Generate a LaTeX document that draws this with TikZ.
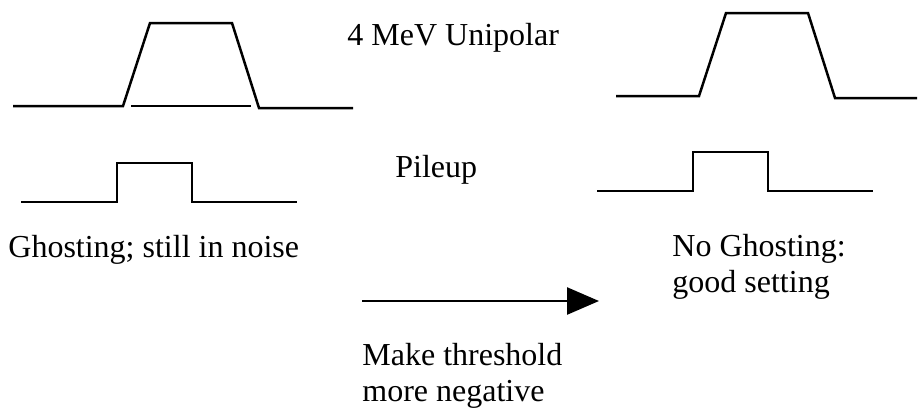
\documentclass[tikz,border=0pt]{standalone}
\usepackage{fontspec}
\setmainfont{Liberation Serif}
\usetikzlibrary{arrows.meta}
\colorlet{TraceInk}{black}
\tikzset{
  trace/.style={line width=1.25pt,TraceInk},
  lbl/.style={inner sep=0pt,anchor=base west,align=left,
    font=\fontsize{16}{18}\selectfont}
}

\begin{document}
\begin{tikzpicture}[x=0.5pt,y=-0.5pt]
  \useasboundingbox (0,0) rectangle (919,409);
  % shaped pulse, threshold too high
  \draw[trace] (13,106) -- (123,106) -- (150,23) -- (232,23) -- (259,108) -- (353,108);
  \draw[trace] (131,106) -- (251,106);
  % shaped pulse, threshold lowered
  \draw[trace] (616,96) -- (699,96) -- (726,13) -- (808,13) -- (835,98) -- (917,98);
  % pileup gates
  \draw[trace] (21,202) -- (117,202) -- (117,163) -- (192,163) -- (192,202) -- (297,202);
  \draw[trace] (597,191) -- (693,191) -- (693,152) -- (768,152) -- (768,191) -- (873,191);
  % multi-line labels sit on their last baseline
  \node[lbl] (unipolar) at (347,45) {4 MeV Unipolar};
  \node[lbl] (pileup) at (395,177) {Pileup};
  \node[lbl] (ghost) at (8,257) {Ghosting; still in noise};
  \node[lbl] (noghost) at (672,292) {No Ghosting:\\good setting};
  \node[lbl] (shift) at (362,401) {Make threshold\\more negative};
  \coordinate (from) at (362,301);
  \coordinate (to) at (599,301);
  \draw[trace,-{Triangle[length=16pt,width=13.5pt]}] (from) -- (to);
\end{tikzpicture}
\end{document}
